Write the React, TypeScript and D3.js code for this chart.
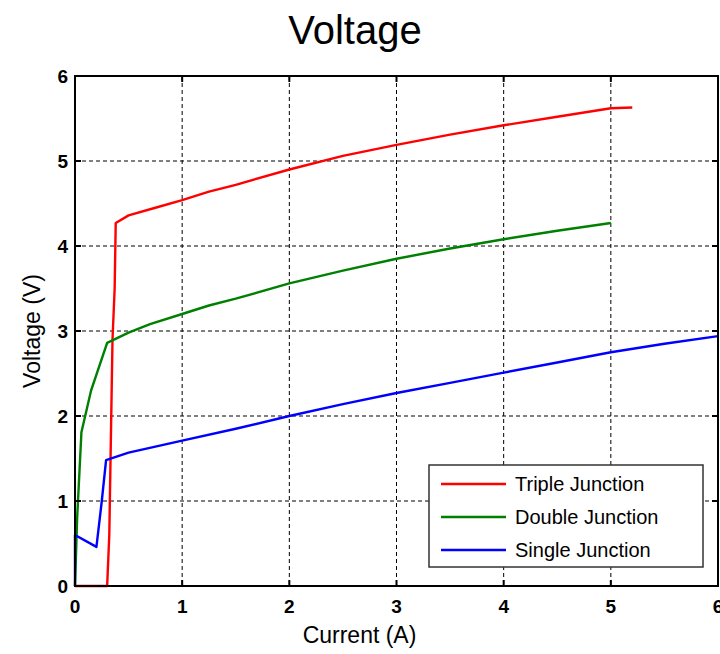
import React, { useRef, useEffect } from "react";
import * as d3 from "d3";

type Pt = [number, number];

// data (current A, voltage V)
const tripleJunction: Pt[] = [
  [0, 0], [0.3, 0], [0.32, 0.6], [0.35, 2.9], [0.37, 3.5], [0.38, 4.27],
  [0.5, 4.36], [0.75, 4.45], [1, 4.54], [1.25, 4.64], [1.5, 4.72], [2, 4.9],
  [2.5, 5.06], [3, 5.19], [3.5, 5.31], [4, 5.42], [4.5, 5.52], [5, 5.62], [5.2, 5.63],
];
const doubleJunction: Pt[] = [
  [0, 0], [0.02, 0.8], [0.06, 1.81], [0.15, 2.3], [0.3, 2.86], [0.5, 2.98],
  [0.7, 3.08], [1, 3.2], [1.25, 3.3], [1.5, 3.38], [2, 3.56], [2.5, 3.71],
  [3, 3.85], [3.5, 3.97], [4, 4.08], [4.5, 4.18], [5, 4.27],
];
const singleJunction: Pt[] = [
  [0, 0], [0, 0.6], [0.2, 0.46], [0.25, 1.0], [0.29, 1.48], [0.5, 1.57],
  [1, 1.71], [1.5, 1.85], [2, 2.0], [2.5, 2.14], [3, 2.27], [3.5, 2.39],
  [4, 2.51], [4.5, 2.63], [5, 2.75], [5.5, 2.85], [6, 2.94],
];

const seriesNames = ["Triple Junction", "Double Junction", "Single Junction"];
const seriesColors = ["#ff0000", "#008000", "#0000ff"];
const xTicks = [0, 1, 2, 3, 4, 5, 6];
const yTicks = [0, 1, 2, 3, 4, 5, 6];

const FONT = "Liberation Sans, Arial, sans-serif";

const Chart = () => {
  const chartRef = useRef<SVGSVGElement | null>(null);

  useEffect(() => {
    if (!chartRef.current) return;
    const W = 720, H = 654;
    const margin = { top: 76, right: 2, bottom: 68, left: 75 };
    const width = W - margin.left - margin.right;
    const height = H - margin.top - margin.bottom;

    const svg = d3.select(chartRef.current);
    svg.selectAll("*").remove();
    svg.attr("width", W).attr("height", H);

    const x = d3.scaleLinear().domain([0, 6]).range([0, width]);
    const y = d3.scaleLinear().domain([0, 6]).range([height, 0]);

    svg.append("text")
      .attr("x", 355).attr("y", 44)
      .attr("text-anchor", "middle")
      .attr("font-family", FONT)
      .attr("font-size", 40)
      .text("Voltage");

    const g = svg.append("g")
      .attr("transform", "translate(" + margin.left + "," + margin.top + ")");

    // dashed grid
    g.selectAll(".vgrid").data(xTicks.slice(1, -1)).enter().append("line")
      .attr("x1", d => x(d)).attr("x2", d => x(d))
      .attr("y1", 0).attr("y2", height)
      .attr("stroke", "#000").attr("stroke-width", 1)
      .attr("stroke-dasharray", "4,3");
    g.selectAll(".hgrid").data(yTicks.slice(1, -1)).enter().append("line")
      .attr("x1", 0).attr("x2", width)
      .attr("y1", d => y(d)).attr("y2", d => y(d))
      .attr("stroke", "#000").attr("stroke-width", 1)
      .attr("stroke-dasharray", "4,3");

    const line = d3.line<Pt>().x(d => x(d[0])).y(d => y(d[1]));
    const allSeries = [tripleJunction, doubleJunction, singleJunction];
    allSeries.forEach((s, i) => {
      g.append("path")
        .datum(s)
        .attr("d", line)
        .attr("fill", "none")
        .attr("stroke", seriesColors[i])
        .attr("stroke-width", 2.4)
        .attr("stroke-linejoin", "round");
    });

    // box
    g.append("rect")
      .attr("x", 0).attr("y", 0).attr("width", width).attr("height", height)
      .attr("fill", "none").attr("stroke", "#000").attr("stroke-width", 2);

    // inward ticks on all sides
    const tl = 6;
    xTicks.forEach(t => {
      g.append("line").attr("x1", x(t)).attr("x2", x(t)).attr("y1", height).attr("y2", height - tl)
        .attr("stroke", "#000").attr("stroke-width", 2);
      g.append("line").attr("x1", x(t)).attr("x2", x(t)).attr("y1", 0).attr("y2", tl)
        .attr("stroke", "#000").attr("stroke-width", 2);
    });
    yTicks.forEach(t => {
      g.append("line").attr("x1", 0).attr("x2", tl).attr("y1", y(t)).attr("y2", y(t))
        .attr("stroke", "#000").attr("stroke-width", 2);
      g.append("line").attr("x1", width).attr("x2", width - tl).attr("y1", y(t)).attr("y2", y(t))
        .attr("stroke", "#000").attr("stroke-width", 2);
    });

    // tick labels
    g.selectAll(".xl").data(xTicks).enter().append("text")
      .attr("x", d => x(d)).attr("y", height + 27)
      .attr("text-anchor", "middle")
      .attr("font-family", FONT)
      .attr("font-weight", "bold").attr("font-size", 19)
      .text(d => d);
    g.selectAll(".yl").data(yTicks).enter().append("text")
      .attr("x", -7).attr("y", d => y(d) + 7)
      .attr("text-anchor", "end")
      .attr("font-family", FONT)
      .attr("font-weight", "bold").attr("font-size", 19)
      .text(d => d);

    // axis labels
    svg.append("text")
      .attr("x", margin.left + width / 2 - 37).attr("y", 643)
      .attr("text-anchor", "middle")
      .attr("font-family", FONT)
      .attr("font-size", 23)
      .text("Current (A)");
    svg.append("text")
      .attr("transform", "translate(40," + 331 + ") rotate(-90)")
      .attr("text-anchor", "middle")
      .attr("font-family", FONT)
      .attr("font-size", 23)
      .text("Voltage (V)");

    // legend
    const lg = svg.append("g").attr("transform", "translate(429,465)");
    lg.append("rect").attr("width", 274).attr("height", 102)
      .attr("fill", "#fff").attr("stroke", "#333").attr("stroke-width", 1.5);
    seriesNames.forEach((name, i) => {
      const cy = 19 + i * 33;
      lg.append("line").attr("x1", 12).attr("x2", 77).attr("y1", cy).attr("y2", cy)
        .attr("stroke", seriesColors[i]).attr("stroke-width", 2.4);
      lg.append("text").attr("x", 86).attr("y", cy + 7)
        .attr("font-family", FONT)
        .attr("font-size", 20)
        .text(name);
    });
  }, []);

  return <svg ref={chartRef} style={{ position: "absolute", left: 0, top: 0 }}></svg>;
};

export default function App() {
  return <Chart />;
}
